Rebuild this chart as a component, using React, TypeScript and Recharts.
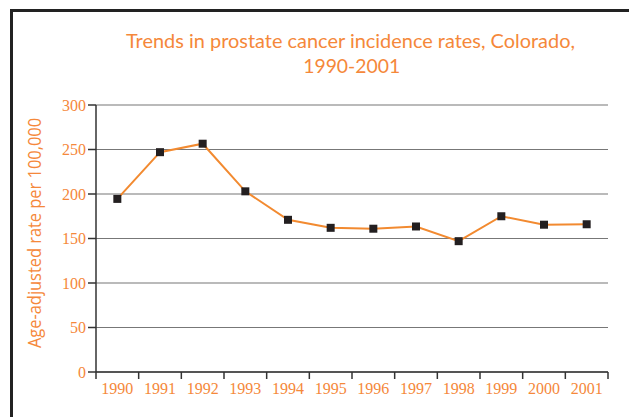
import React from "react";
import { LineChart, Line, XAxis, YAxis, CartesianGrid } from "recharts";

const years = ["1990", "1991", "1992", "1993", "1994", "1995", "1996", "1997", "1998", "1999", "2000", "2001"];
const rates = [194.5, 247, 256.5, 203, 171, 162, 161, 163.5, 147, 175, 165.5, 166];
const yTicks = [0, 50, 100, 150, 200, 250, 300];

const titleLine1 = "Trends in prostate cancer incidence rates, Colorado,";
const titleLine2 = "1990-2001";
const yLabel = "Age-adjusted rate per 100,000";

const data = years.map((y, i) => ({ year: y, rate: rates[i] }));

const ORANGE_TEXT = "#F5883A";
const ORANGE_LINE = "#F28A30";
const DARK = "#231F20";
const X_TICK_SIZE = 6;
const X_TICK_MARGIN = 5;

const SquareDot = (props: any) => {
  const { cx, cy, index } = props;
  if (cx == null || cy == null) return null;
  return <rect key={`d${index}`} x={cx - 4} y={cy - 4} width={8} height={8} fill={DARK} />;
};

const CatTick = (props: any) => {
  const { x, y, payload, index, visibleTicksCount } = props;
  const off = payload && payload.offset != null ? payload.offset : 0;
  const axisY = y - X_TICK_SIZE - X_TICK_MARGIN;
  const isLast = index === (visibleTicksCount ?? years.length) - 1;
  return (
    <g>
      <line x1={x - off} x2={x - off} y1={axisY} y2={axisY + 7} stroke="#333" strokeWidth={1.5} />
      {isLast && <line x1={x + off} x2={x + off} y1={axisY} y2={axisY + 7} stroke="#333" strokeWidth={1.5} />}
      <text
        x={x}
        y={y}
        dy="0.71em"
        textAnchor="middle"
        fill={ORANGE_TEXT}
        fontSize={16}
        fontFamily="'Liberation Serif', 'Times New Roman', serif"
      >
        {payload.value}
      </text>
    </g>
  );
};

export default function App() {
  return (
    <div style={{ position: "fixed", left: 0, top: 0, width: 629, height: 417, overflow: "hidden", background: "#fff" }}>
      <div
        style={{
          position: "absolute",
          left: 10,
          top: 9,
          width: 700,
          height: 500,
          borderLeft: "3px solid #222",
          borderTop: "3px solid #222",
          boxSizing: "border-box",
        }}
      />
      <div style={{ position: "absolute", left: 0, top: 0 }}>
        <LineChart width={629} height={417} data={data} margin={{ top: 105, right: 21, bottom: 15, left: 36 }}>
          <CartesianGrid horizontal={true} vertical={false} stroke="#777" strokeWidth={1.2} yAxisId="y" xAxisId="cat" />
          <XAxis
            xAxisId="cat"
            dataKey="year"
            type="category"
            scale="band"
            height={30}
            axisLine={{ stroke: "#333", strokeWidth: 1.5 }}
            tickLine={false}
            tickSize={X_TICK_SIZE}
            tickMargin={X_TICK_MARGIN}
            interval={0}
            tick={CatTick}
          />
          <YAxis
            yAxisId="y"
            width={60}
            domain={[0, 300]}
            ticks={yTicks}
            interval={0}
            axisLine={{ stroke: "#333", strokeWidth: 1.5 }}
            tickLine={{ stroke: "#333", strokeWidth: 1.5 }}
            tickSize={8}
            tickMargin={2}
            tick={{ fill: ORANGE_TEXT, fontSize: 16, fontFamily: "'Liberation Serif', 'Times New Roman', serif" }}
          />
          <Line
            xAxisId="cat"
            yAxisId="y"
            type="linear"
            dataKey="rate"
            stroke={ORANGE_LINE}
            strokeWidth={2}
            dot={SquareDot}
            activeDot={false}
            isAnimationActive={false}
          />
        </LineChart>
      </div>
      <svg width={629} height={417} style={{ position: "absolute", left: 0, top: 0, pointerEvents: "none" }}>
        <text
          x={350.5}
          y={48.3}
          textAnchor="middle"
          fill={ORANGE_TEXT}
          fontSize={20}
          fontFamily="Lato, 'Open Sans', sans-serif"
          textLength={449}
          lengthAdjust="spacingAndGlyphs"
        >
          {titleLine1}
        </text>
        <text
          x={351.7}
          y={73.3}
          textAnchor="middle"
          fill={ORANGE_TEXT}
          fontSize={20}
          fontFamily="Lato, 'Open Sans', sans-serif"
          textLength={97}
          lengthAdjust="spacingAndGlyphs"
        >
          {titleLine2}
        </text>
        <text
          x={41}
          y={233}
          transform="rotate(-90 41 233)"
          textAnchor="middle"
          fill={ORANGE_TEXT}
          fontSize={18}
          fontFamily="'Open Sans', Lato, sans-serif"
          textLength={230}
          lengthAdjust="spacingAndGlyphs"
        >
          {yLabel}
        </text>
      </svg>
    </div>
  );
}
